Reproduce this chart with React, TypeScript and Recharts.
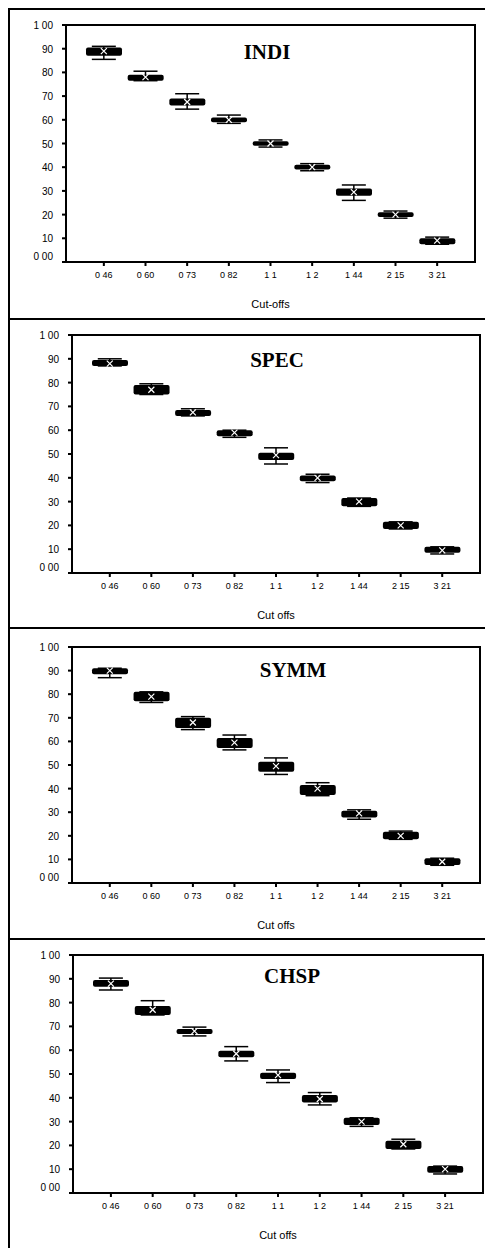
import {
  Bar,
  ComposedChart,
  ErrorBar,
  Scatter,
  XAxis,
  YAxis,
} from "recharts";

// cut-off values on the x axis (decimal points are lost in the scan)
const cutoffs = ["0 46", "0 60", "0 73", "0 82", "1 1", "1 2", "1 44", "2 15", "3 21"];
const yTicks = [0, 10, 20, 30, 40, 50, 60, 70, 80, 90, 100];

// INDI
const indiMin = [85.5, 76.5, 64.5, 58.5, 48.5, 38.5, 26, 18.5, 7.5];
const indiQ1 = [87, 76.5, 66, 59, 49, 39, 28, 19, 7.5];
const indiMed = [89, 78, 67.5, 60, 50, 40, 29.5, 20, 9];
const indiQ3 = [90.5, 79, 69, 61, 51, 41, 31, 21, 10];
const indiMax = [91, 80.5, 71, 62, 51.5, 41.5, 32.5, 21.5, 10.5];

// SPEC
const specMin = [87, 75, 66, 57, 45.8, 38, 28, 18.5, 8];
const specQ1 = [87, 75, 66, 57.5, 47.5, 38.5, 28, 18.5, 8.5];
const specMed = [88, 77, 67.5, 59, 49.5, 40, 30, 20, 9.5];
const specQ3 = [89.5, 79, 68.5, 60, 50.5, 41, 31.5, 21.5, 11];
const specMax = [90, 79.5, 69, 60, 52.6, 41.5, 31.5, 21.5, 11];

// SYMM
const symmMin = [87, 76.5, 65, 56.4, 46, 37, 27, 18.5, 7.5];
const symmQ1 = [88.5, 77, 65.7, 57.2, 47.1, 37.3, 27.8, 18.5, 7.6];
const symmMed = [90, 79, 68, 59.5, 49.5, 40, 29.5, 20, 9];
const symmQ3 = [91, 81, 70, 61.4, 51.4, 41.5, 30.6, 21.7, 10.5];
const symmMax = [91, 81, 70.5, 62.7, 53, 42.5, 31, 22, 10.5];

// CHSP
const chspMin = [85.3, 74.8, 66, 55.5, 46.4, 37, 28, 18.5, 8];
const chspQ1 = [86.7, 74.8, 66.8, 57, 47.9, 38, 28.6, 18.5, 8.5];
const chspMed = [88, 77, 68, 58.5, 49.5, 39.5, 30, 20.5, 10];
const chspQ3 = [89.5, 78.6, 68.9, 59.8, 50.5, 41.2, 31.6, 22, 11.3];
const chspMax = [90.3, 80.8, 69.7, 61.5, 51.7, 42.2, 31.6, 22.6, 11.3];

function rows(min: number[], q1: number[], med: number[], q3: number[], max: number[]) {
  return cutoffs.map((cut, i) => ({
    cut,
    box: [q1[i], q3[i]],
    median: med[i],
    err: [med[i] - min[i], max[i] - med[i]],
  }));
}

const W = 485;
const X_AXIS_H = 50;

// layout of each panel
const panels = [
  { title: "INDI", data: rows(indiMin, indiQ1, indiMed, indiQ3, indiMax), top: 0, height: 310, margin: { top: 17, right: 18, left: 0, bottom: 6 }, yWidth: 58, titleX: 259, titleY: 44, xLabel: "Cut-offs" },
  { title: "SPEC", data: rows(specMin, specQ1, specMed, specQ3, specMax), top: 310, height: 309, margin: { top: 17, right: 13, left: 0, bottom: 4 }, yWidth: 64, titleX: 269, titleY: 42, xLabel: "Cut offs" },
  { title: "SYMM", data: rows(symmMin, symmQ1, symmMed, symmQ3, symmMax), top: 619, height: 311, margin: { top: 20, right: 13, left: 0, bottom: 5 }, yWidth: 64, titleX: 285, titleY: 43, xLabel: "Cut offs" },
  { title: "CHSP", data: rows(chspMin, chspQ1, chspMed, chspQ3, chspMax), top: 930, height: 310, margin: { top: 17, right: 10, left: 0, bottom: 5 }, yWidth: 65, titleX: 284, titleY: 38, xLabel: "Cut offs" },
];

const FONT = "'Liberation Sans', Arial, sans-serif";
const LINE = { stroke: "#000", strokeWidth: 2 };

function fmtY(v: number) {
  if (v === 100) return "1 00";
  if (v === 0) return "0 00";
  return String(v);
}

// y tick: small mark left of the axis plus label (0 label sits a bit high in the scan)
function YTick(props: any) {
  const { x, y, payload } = props;
  const v = payload.value as number;
  return (
    <g>
      <rect x={x + 9} y={y - 1} width={5} height={2} fill="#000" />
      <text x={x} y={v === 0 ? y - 6 : y} dy={4} textAnchor="end" fontSize={10} fontFamily={FONT} fill="#000">
        {fmtY(v)}
      </text>
    </g>
  );
}

function XTick(props: any) {
  const { x, y, payload } = props;
  return (
    <g>
      <rect x={x - 1} y={y - 9} width={2} height={5} fill="#000" />
      <text x={x} y={y} dy={8} textAnchor="middle" fontSize={9} fontFamily={FONT} fill="#000">
        {payload.value}
      </text>
    </g>
  );
}

function MedianMark(props: any) {
  const { cx, cy } = props;
  if (cx == null || cy == null) return <g />;
  return (
    <path
      d={`M${cx - 3},${cy - 3}L${cx + 3},${cy + 3}M${cx + 3},${cy - 3}L${cx - 3},${cy + 3}`}
      stroke="#fff"
      strokeWidth={1.2}
    />
  );
}

function Frame({ p }: { p: (typeof panels)[number] }) {
  const left = p.margin.left + p.yWidth;
  const right = W - p.margin.right;
  const top = p.top + p.margin.top;
  const bottom = p.top + p.height - p.margin.bottom - X_AXIS_H;
  const base = { position: "absolute" as const, background: "#000", zIndex: 10 };
  return (
    <>
      <div style={{ ...base, left: left - 1, top: top - 1, width: right - left + 2, height: 2 }} />
      <div style={{ ...base, left: left - 1, top: bottom - 1, width: right - left + 2, height: 2 }} />
      <div style={{ ...base, left: left - 1, top: top - 1, width: 2, height: bottom - top + 2 }} />
      <div style={{ ...base, left: right - 1, top: top - 1, width: 2, height: bottom - top + 2 }} />
    </>
  );
}

function Panel({ p }: { p: (typeof panels)[number] }) {
  return (
    <div style={{ position: "absolute", left: 0, top: p.top, width: W, height: p.height }}>
      <ComposedChart width={W} height={p.height} data={p.data} margin={p.margin} style={{ overflow: "visible" }}>
        <XAxis
          dataKey="cut"
          height={X_AXIS_H}
          padding={{ left: 17, right: 17 }}
          axisLine={LINE}
          tickSize={3}
          tickMargin={5}
          tick={<XTick />}
          label={{ value: p.xLabel, position: "insideBottom", offset: 4, fontSize: 11, fontFamily: FONT, fill: "#000" }}
        />
        <YAxis
          type="number"
          domain={[0, 100]}
          ticks={yTicks}
          interval={0}
          width={p.yWidth}
          axisLine={LINE}
          tickSize={3}
          tickMargin={10}
          tick={<YTick />}
        />
        <Bar dataKey="box" fill="#000" barSize={36} radius={2} isAnimationActive={false} />
        <Scatter dataKey="median" shape={<MedianMark />} isAnimationActive={false}>
          <ErrorBar dataKey="err" direction="y" width={12} stroke="#000" strokeWidth={1.5} isAnimationActive={false} />
        </Scatter>
      </ComposedChart>
      <div
        style={{
          position: "absolute",
          left: p.titleX,
          top: p.titleY,
          transform: "translate(-50%, -50%)",
          fontFamily: "'Liberation Serif', 'Times New Roman', serif",
          fontWeight: "bold",
          fontSize: 21,
          lineHeight: 1,
          color: "#000",
        }}
      >
        {p.title}
      </div>
      <div style={{ position: "absolute", left: 0, top: 0, width: W, height: 2, background: "#000" }} />
    </div>
  );
}

export default function App() {
  return (
    <div style={{ position: "relative", width: W, height: 1240, background: "#fff" }}>
      {panels.map((p) => (
        <Panel key={p.title} p={p} />
      ))}
      {panels.map((p) => (
        <Frame key={"f" + p.title} p={p} />
      ))}
      <div style={{ position: "absolute", left: 0, top: 0, width: 2, height: 1240, background: "#000" }} />
    </div>
  );
}
